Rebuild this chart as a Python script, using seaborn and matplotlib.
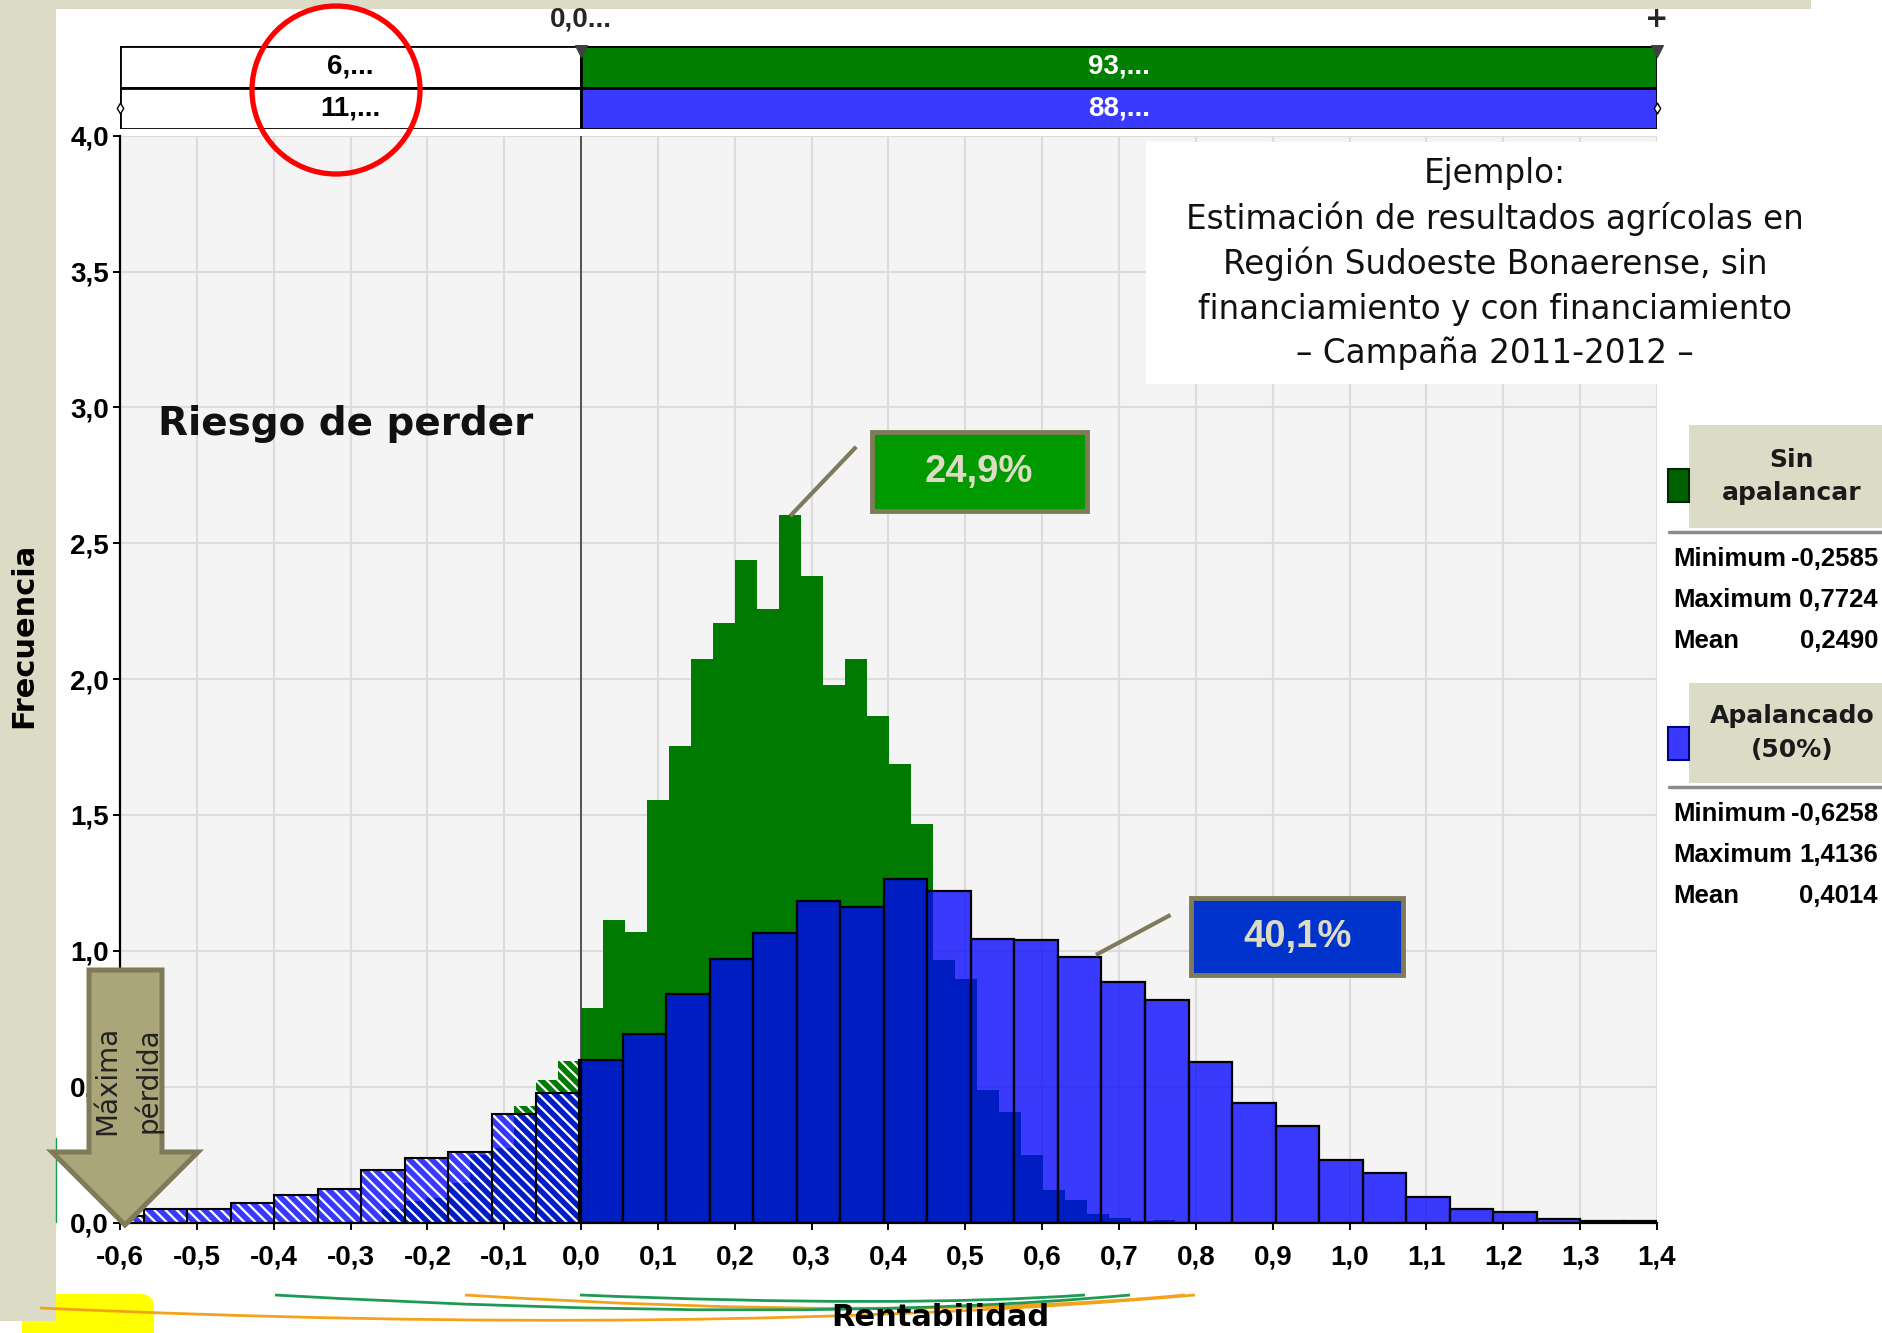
import numpy as np
import matplotlib
matplotlib.use("Agg")
import matplotlib.pyplot as plt
import seaborn as sns
from matplotlib.patches import Rectangle, Ellipse, Polygon, PathPatch, FancyBboxPatch
from matplotlib.path import Path

# --- datos (@RISK, 36 clases por serie) ---
green_min, green_max, green_mean = -0.2585, 0.7724, 0.2490
blue_min, blue_max, blue_mean = -0.6258, 1.4136, 0.4014
n_bins = 36

# Sin apalancar (verde)
green_heights = [0.05, 0.08, 0.09, 0.146, 0.25, 0.274, 0.43, 0.523, 0.596,
                 0.79, 1.112, 1.068, 1.554, 1.752, 2.073, 2.205, 2.44, 2.257,
                 2.603, 2.381, 1.977, 2.073, 1.863, 1.686, 1.465,
                 0.966, 0.898, 0.488, 0.407, 0.25, 0.118, 0.081, 0.032, 0.016, 0.006, 0.01]
# Apalancado 50% (azul)
blue_heights = [0.025, 0.049, 0.049, 0.071, 0.10, 0.122, 0.195, 0.238, 0.259, 0.398, 0.477,
                0.597, 0.693, 0.84, 0.971, 1.066, 1.184, 1.162, 1.266, 1.221, 1.045,
                1.039, 0.977, 0.884, 0.818, 0.592, 0.438, 0.354, 0.23, 0.181, 0.093,
                0.049, 0.04, 0.013, 0.004, 0.004]

delimiter = 0.0
green_pct = ["6,...", "93,..."]
blue_pct = ["11,...", "88,..."]
green_label = "24,9%"
blue_label = "40,1%"
x_tick_values = [-0.6, -0.5, -0.4, -0.3, -0.2, -0.1, 0.0, 0.1, 0.2, 0.3, 0.4,
                 0.5, 0.6, 0.7, 0.8, 0.9, 1.0, 1.1, 1.2, 1.3, 1.4]
y_tick_values = [0.0, 0.5, 1.0, 1.5, 2.0, 2.5, 3.0, 3.5, 4.0]
stat_names = ["Minimum", "Maximum", "Mean"]

title_lines = ["Ejemplo:",
               "Estimación de resultados agrícolas en",
               "Región Sudoeste Bonaerense, sin",
               "financiamiento y con financiamiento",
               "– Campaña 2011-2012 –"]


def comma(v, nd=1):
    s = f"{v:.{nd}f}".replace(".", ",")
    return "0,0" if s == "-0,0" else s


def split_bins(vmin, vmax, heights, side):
    """Corta las clases en el delimitador (como hace @RISK)."""
    edges = np.linspace(vmin, vmax, n_bins + 1)
    lo, hi, h = edges[:-1], edges[1:], np.asarray(heights)
    if side == "neg":
        m = lo < delimiter
        lo, hi, h = lo[m], np.minimum(hi[m], delimiter), h[m]
    else:
        m = hi > delimiter
        lo, hi, h = np.maximum(lo[m], delimiter), hi[m], h[m]
    return (lo + hi) / 2, h, np.r_[lo, hi[-1]].tolist()


sns.set_theme(style="white")
NARROW = ["Liberation Sans", "DejaVu Sans"]
plt.rcParams["font.family"] = ["DejaVu Sans"]
plt.rcParams["hatch.linewidth"] = 1.6

W, H = 1883, 1333
BEIGE = "#dcdcc6"
OLIVE = "#7f7a5a"

fig = plt.figure(figsize=(W / 100, H / 100), dpi=100)
fig.patch.set_facecolor("white")


def fx(px):
    return px / W


def fy(py):
    return 1 - py / H


# fondo (plantilla de la diapositiva)
bg = fig.add_axes([0, 0, 1, 1], zorder=-1)
bg.set_xlim(0, W)
bg.set_ylim(H, 0)
bg.axis("off")
bg.add_patch(FancyBboxPatch((22, 1294), 132, 60, boxstyle="round,pad=0,rounding_size=14",
                            fc="#ffff00", ec="none"))
bg.add_patch(Rectangle((0, 0), 56, 1321, fc=BEIGE, ec="none"))
bg.add_patch(Rectangle((56, 0), 1755, 9, fc=BEIGE, ec="none"))
bg.plot([56, 56], [1138, 1222], color="#1a9a50", lw=1)
for (p0, c, p1), col in [(((40, 1308), (700, 1338), (1195, 1295)), "#f5a21b"),
                         (((465, 1295), (900, 1322), (1185, 1295)), "#f5a21b"),
                         (((275, 1295), (800, 1325), (1130, 1295)), "#1e9a55"),
                         (((580, 1295), (900, 1308), (1085, 1295)), "#1e9a55")]:
    bg.add_patch(PathPatch(Path([p0, c, p1], [Path.MOVETO, Path.CURVE3, Path.CURVE3]),
                           fc="none", ec=col, lw=2))

# --- histograma principal ---
ax = fig.add_axes([fx(120), fy(1222.5), fx(1657) - fx(120), (1222.5 - 135.7) / H])
ax.set_facecolor("#f4f4f4")

blue_rgba = (0.0, 0.0, 1.0, 0.76)
hatch = "\\\\\\"

c, h, b = split_bins(green_min, green_max, green_heights, "pos")
sns.histplot(x=c, weights=h, bins=b, ax=ax, facecolor="#007a00", edgecolor="none", linewidth=0)
c, h, b = split_bins(green_min, green_max, green_heights, "neg")
sns.histplot(x=c, weights=h, bins=b, ax=ax, facecolor="#007a00", edgecolor="white",
             linewidth=0, hatch=hatch)

c, h, b = split_bins(blue_min, blue_max, blue_heights, "neg")
sns.histplot(x=c, weights=h, bins=b, ax=ax, facecolor=blue_rgba, edgecolor="white",
             linewidth=0, hatch=hatch)
sns.histplot(x=c, weights=h, bins=b, ax=ax, facecolor="none", edgecolor="black", linewidth=1.5)
c, h, b = split_bins(blue_min, blue_max, blue_heights, "pos")
sns.histplot(x=c, weights=h, bins=b, ax=ax, facecolor=blue_rgba, edgecolor="black", linewidth=1.6)

ax.axvline(delimiter, color="#3a3a3a", lw=1.2, zorder=0.8)

ax.set_xlim(-0.6, 1.4)
ax.set_ylim(0, 4.0)
ax.set_xticks(x_tick_values)
ax.set_xticklabels([comma(v) for v in x_tick_values])
ax.set_yticks(y_tick_values)
ax.set_yticklabels([comma(v) for v in y_tick_values])
ax.grid(True, color="#dcdcdc", lw=1.5)
ax.set_axisbelow(True)
for s in ["top", "right"]:
    ax.spines[s].set_visible(False)
for s in ["left", "bottom"]:
    ax.spines[s].set_color("black")
    ax.spines[s].set_linewidth(1.6)
ax.tick_params(axis="both", bottom=True, left=True, length=5, width=1.4, color="black",
               direction="out", labelcolor="black")
ax.tick_params(axis="x", pad=11)
ax.tick_params(axis="y", pad=3)
for lab in ax.get_xticklabels() + ax.get_yticklabels():
    lab.set_fontfamily(NARROW)
    lab.set_fontweight("bold")
    lab.set_fontsize(20)

ax.set_ylabel("Frecuencia", fontsize=22, fontweight="bold", color="black")
ax.yaxis.set_label_coords(-0.053, 0.54)
ax.set_xlabel("Rentabilidad", fontsize=22, fontweight="bold", color="black")
ax.xaxis.set_label_coords(0.534, -0.074)

# etiquetas de porcentaje con lineas guia
ax.plot([0.272, 0.358], [2.60, 2.855], color=OLIVE, lw=3, solid_capstyle="butt", zorder=4)
ax.add_patch(Rectangle((0.379, 2.617), 0.279, 0.294, fc="#009900", ec=OLIVE, lw=3.5, zorder=4))
ax.text(0.518, 2.764, green_label, ha="center", va="center", color=BEIGE, fontsize=27.5,
        fontweight="bold", family=NARROW, zorder=5)
ax.plot([0.670, 0.767], [0.985, 1.132], color=OLIVE, lw=3, solid_capstyle="butt", zorder=4)
ax.add_patch(Rectangle((0.794, 0.911), 0.276, 0.283, fc="#0033cc", ec=OLIVE, lw=3.5, zorder=4))
ax.text(0.932, 1.052, blue_label, ha="center", va="center", color=BEIGE, fontsize=27.5,
        fontweight="bold", family=NARROW, zorder=5)

# --- barras de delimitadores (arriba) ---
ax_top = fig.add_axes([fx(120), fy(129.3), fx(1657) - fx(120), (129.3 - 45.7) / H], sharex=ax)
ax_top.axis("off")
ax_top.set_ylim(0, 2)
x0, x1 = -0.6, 1.4
ax_top.barh([1.5, 0.5], delimiter - x0, left=x0, height=1, color="white", edgecolor="black", lw=2)
ax_top.barh(1.5, x1 - delimiter, left=delimiter, height=1, color="#007f00", edgecolor="black", lw=2)
ax_top.barh(0.5, x1 - delimiter, left=delimiter, height=1, color="#3a3aff", edgecolor="black", lw=2)
for row, txts in [(1.5, green_pct), (0.5, blue_pct)]:
    ax_top.text((x0 + delimiter) / 2, row, txts[0], ha="center", va="center", color="black",
                fontsize=20, fontweight="bold", family=NARROW)
    ax_top.text((x1 + delimiter) / 2, row, txts[1], ha="center", va="center", color="white",
                fontsize=20, fontweight="bold", family=NARROW)
ax_top.text(delimiter, 2.62, comma(delimiter) + "...", ha="center", va="center", fontsize=20,
            fontweight="bold", family=NARROW, clip_on=False)
ax_top.text(x1, 2.65, "+", ha="center", va="center", fontsize=20, fontweight="bold", clip_on=False)
ax_top.scatter([delimiter, x1], [1.88, 1.88], marker="v", s=70, color="#404040", zorder=5, clip_on=False)
ax_top.scatter([x0, x1], [0.5, 0.5], marker="d", s=30, facecolor="white", edgecolor="black",
               lw=1, zorder=5, clip_on=False)

# --- capa de anotaciones ---
ov = fig.add_axes([0, 0, 1, 1], zorder=5)
ov.set_xlim(0, W)
ov.set_ylim(H, 0)
ov.axis("off")

ov.add_patch(Ellipse((336, 90), 168, 168, fc="none", ec="#ff0000", lw=3.8))

ov.add_patch(Rectangle((1146, 142), 511, 242, fc="white", ec="none"))
for txt, yy in zip(title_lines, [174, 219, 264, 309, 353]):
    ov.text(1495, yy, txt, ha="center", va="center", fontsize=23.5, color="#111111")

ov.text(158, 424, "Riesgo de perder", ha="left", va="center", fontsize=28,
        fontweight="bold", color="#111111")

# flecha "Maxima perdida"
ov.add_patch(Polygon([(89, 970), (162, 970), (162, 1152), (198, 1152), (125, 1225),
                      (52, 1152), (89, 1152)], closed=True, fc="#aba57a", ec="#7f7a58",
                     lw=3.6, joinstyle="miter"))
ov.text(107, 1080, "Máxima", rotation=90, ha="center", va="center", fontsize=20, color="#222222")
ov.text(148, 1080, "pérdida", rotation=90, ha="center", va="center", fontsize=20, color="#222222")

# leyenda con estadisticas
series = [("Sin\napalancar", "#006000", "#002800", (green_min, green_max, green_mean), 425, 103),
          ("Apalancado\n(50%)", "#3a3aff", "#000080", (blue_min, blue_max, blue_mean), 683, 100)]
for name, fc, ec, stats, top, hh in series:
    ov.add_patch(Rectangle((1689, top), 194, hh, fc=BEIGE, ec="none"))
    ov.text(1792, top + hh / 2, name, ha="center", va="center", fontsize=18,
            fontweight="bold", color="#1a1a1a", linespacing=1.5)
    ov.add_patch(Rectangle((1668, top + 44), 21, 33, fc=fc, ec=ec, lw=1.5))
    sep = top + hh + 4
    ov.plot([1669, 1883], [sep, sep], color="#8c8c8c", lw=2.5)
    for i, (nm, val) in enumerate(zip(stat_names, stats)):
        yy = sep + 27 + i * 41
        ov.text(1673, yy, nm, ha="left", va="center", fontsize=18.5, fontweight="bold",
                family=NARROW, color="black")
        ov.text(1878, yy, comma(val, 4), ha="right", va="center", fontsize=18.5,
                fontweight="bold", family=NARROW, color="black")

fig.savefig("out.png", dpi=100)
